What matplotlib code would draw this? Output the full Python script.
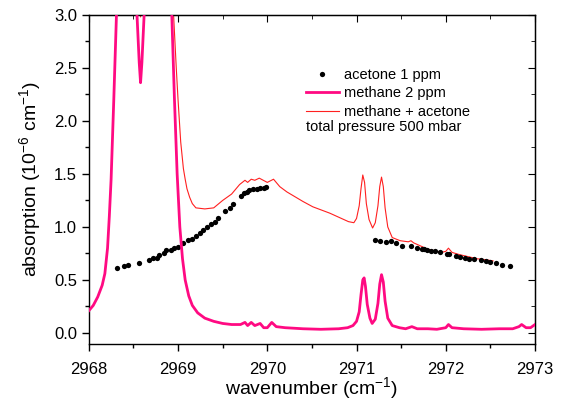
import matplotlib
matplotlib.use("Agg")
import matplotlib.pyplot as plt
from matplotlib.lines import Line2D
from matplotlib.ticker import MultipleLocator, FormatStrFormatter

plt.rcParams["font.family"] = ["Liberation Sans", "DejaVu Sans"]
plt.rcParams["mathtext.fontset"] = "custom"
plt.rcParams["mathtext.rm"] = "Liberation Sans"
plt.rcParams["mathtext.it"] = "Liberation Sans"

# methane 2 ppm (thick magenta line); values above 3.0 are clipped by the axes
methane_x = [2968.00, 2968.05, 2968.10, 2968.15, 2968.18, 2968.21, 2968.23, 2968.25,
             2968.28, 2968.31, 2968.35, 2968.50, 2968.54, 2968.565, 2968.58, 2968.595,
             2968.62, 2968.66, 2968.90, 2968.93, 2968.96, 2968.99, 2969.02, 2969.05,
             2969.08, 2969.12, 2969.16, 2969.22, 2969.30, 2969.40, 2969.50, 2969.60,
             2969.70, 2969.75, 2969.78, 2969.82, 2969.86, 2969.92, 2969.96, 2970.00,
             2970.05, 2970.10, 2970.20, 2970.40, 2970.60, 2970.80, 2970.90, 2970.96,
             2971.00, 2971.03, 2971.05, 2971.07, 2971.085, 2971.10, 2971.12, 2971.15,
             2971.175, 2971.21, 2971.24, 2971.26, 2971.28, 2971.30, 2971.32, 2971.35,
             2971.40, 2971.48, 2971.55, 2971.62, 2971.68, 2971.80, 2971.90, 2972.00,
             2972.03, 2972.07, 2972.20, 2972.40, 2972.60, 2972.75, 2972.82, 2972.85,
             2972.90, 2972.95, 2973.00]
methane_y = [0.21, 0.26, 0.34, 0.45, 0.56, 0.80, 1.10, 1.45,
             2.20, 3.00, 3.60, 3.60, 3.00, 2.55, 2.36, 2.55,
             3.00, 3.60, 3.60, 3.00, 2.20, 1.50, 1.00, 0.70,
             0.50, 0.35, 0.26, 0.19, 0.14, 0.11, 0.09, 0.08,
             0.08, 0.10, 0.07, 0.10, 0.07, 0.09, 0.05, 0.05,
             0.10, 0.06, 0.05, 0.04, 0.035, 0.04, 0.05, 0.07,
             0.11, 0.20, 0.36, 0.50, 0.52, 0.44, 0.27, 0.14,
             0.09, 0.13, 0.28, 0.46, 0.55, 0.48, 0.30, 0.14,
             0.07, 0.05, 0.04, 0.06, 0.04, 0.04, 0.035, 0.05,
             0.08, 0.05, 0.04, 0.035, 0.04, 0.04, 0.06, 0.08,
             0.05, 0.05, 0.08]

# methane + acetone (thin red line)
mix_x = [2968.45, 2968.55, 2968.58, 2968.61, 2968.70, 2968.92, 2968.95, 2968.98,
         2969.00, 2969.03, 2969.06, 2969.08, 2969.10, 2969.13, 2969.16, 2969.20,
         2969.30, 2969.40, 2969.50, 2969.60, 2969.69, 2969.75, 2969.78, 2969.82,
         2969.86, 2969.91, 2970.00, 2970.07, 2970.14, 2970.22, 2970.30, 2970.40,
         2970.51, 2970.70, 2970.91, 2970.97, 2971.00, 2971.03, 2971.05, 2971.07,
         2971.09, 2971.11, 2971.14, 2971.18, 2971.21, 2971.24, 2971.26, 2971.28,
         2971.30, 2971.32, 2971.35, 2971.40, 2971.49, 2971.58, 2971.61, 2971.64,
         2971.80, 2971.95, 2972.00, 2972.03, 2972.07, 2972.15, 2972.25, 2972.35,
         2972.45, 2972.53]
mix_y = [3.60, 3.50, 2.98, 3.50, 3.60, 3.60, 3.00, 2.50,
         2.20, 1.80, 1.55, 1.45, 1.36, 1.28, 1.22, 1.18,
         1.17, 1.18, 1.25, 1.31, 1.40, 1.44, 1.42, 1.45,
         1.44, 1.46, 1.42, 1.45, 1.38, 1.33, 1.29, 1.24,
         1.19, 1.13, 1.05, 1.04, 1.08, 1.20, 1.36, 1.49,
         1.42, 1.22, 1.07, 0.99, 1.04, 1.20, 1.38, 1.47,
         1.38, 1.18, 1.00, 0.90, 0.87, 0.86, 0.87, 0.85,
         0.79, 0.76, 0.77, 0.80, 0.76, 0.74, 0.72, 0.70,
         0.69, 0.68]

# acetone 1 ppm (black dots)
acetone_x = [2968.32, 2968.40, 2968.44, 2968.56, 2968.68, 2968.72, 2968.76, 2968.79,
             2968.84, 2968.87, 2968.92, 2968.96, 2969.00, 2969.05, 2969.11, 2969.16,
             2969.20, 2969.25, 2969.28, 2969.33, 2969.37, 2969.41, 2969.45, 2969.53,
             2969.58, 2969.62, 2969.71, 2969.74, 2969.77, 2969.80, 2969.84, 2969.88,
             2969.92, 2969.96, 2969.99,
             2971.21, 2971.26, 2971.33, 2971.39, 2971.44, 2971.51, 2971.61, 2971.68,
             2971.73, 2971.76, 2971.79, 2971.84, 2971.88, 2971.94, 2972.01, 2972.04,
             2972.11, 2972.16, 2972.21, 2972.26, 2972.32, 2972.39, 2972.45, 2972.50,
             2972.56, 2972.63, 2972.72]
acetone_y = [0.61, 0.63, 0.64, 0.66, 0.69, 0.71, 0.71, 0.74,
             0.75, 0.78, 0.78, 0.80, 0.81, 0.85, 0.88, 0.89,
             0.91, 0.94, 0.97, 1.00, 1.03, 1.05, 1.08, 1.15,
             1.18, 1.22, 1.29, 1.32, 1.33, 1.35, 1.36, 1.36,
             1.37, 1.37, 1.38,
             0.88, 0.87, 0.86, 0.87, 0.85, 0.82, 0.82, 0.80,
             0.79, 0.79, 0.78, 0.77, 0.77, 0.76, 0.745, 0.745,
             0.73, 0.72, 0.71, 0.70, 0.70, 0.69, 0.68, 0.67,
             0.66, 0.64, 0.63]

magenta = "#ff0a82"
red = "#ff2020"

fig = plt.figure(figsize=(5.62, 4.12), dpi=100)
ax = fig.add_axes([0.158, 0.166, 0.794, 0.798])

ax.plot(mix_x, mix_y, color=red, lw=0.8, zorder=2)
ax.plot(acetone_x, acetone_y, "o", color="black", ms=3.8, mew=0, zorder=3)
ax.plot(methane_x, methane_y, color=magenta, lw=2.0, zorder=4)

ax.set_xlim(2968, 2973)
ax.set_ylim(-0.1, 3.0)
ax.xaxis.set_major_locator(MultipleLocator(1))
ax.xaxis.set_minor_locator(MultipleLocator(0.5))
ax.yaxis.set_major_locator(MultipleLocator(0.5))
ax.yaxis.set_minor_locator(MultipleLocator(0.25))
ax.yaxis.set_major_formatter(FormatStrFormatter("%.1f"))
ax.xaxis.set_major_formatter(FormatStrFormatter("%d"))
ax.tick_params(which="major", direction="out", length=5, width=1, labelsize=12)
ax.tick_params(axis="x", which="major", pad=8)
ax.tick_params(which="minor", direction="out", length=3, width=1)
for s in ax.spines.values():
    s.set_linewidth(1)

# inward ticks on top and right
top = ax.secondary_xaxis("top")
top.xaxis.set_major_locator(MultipleLocator(1))
top.xaxis.set_minor_locator(MultipleLocator(0.5))
top.tick_params(which="major", direction="in", length=5, labeltop=False)
top.tick_params(which="minor", direction="in", length=3)
right = ax.secondary_yaxis("right")
right.yaxis.set_major_locator(MultipleLocator(0.5))
right.yaxis.set_minor_locator(MultipleLocator(0.25))
right.tick_params(which="major", direction="in", length=5, labelright=False)
right.tick_params(which="minor", direction="in", length=3)

ax.set_xlabel("wavenumber (cm$^{-1}$)", fontsize=14, labelpad=-1)
ax.set_ylabel("absorption (10$^{-6}$ cm$^{-1}$)", fontsize=14, labelpad=8)

handles = [
    Line2D([], [], ls="none", marker="o", color="black", ms=3.8, mew=0),
    Line2D([], [], color=magenta, lw=2.0),
    Line2D([], [], color=red, lw=0.8),
]
labels = ["acetone 1 ppm", "methane 2 ppm", "methane + acetone"]
ax.legend(handles, labels, loc="upper left", bbox_to_anchor=(0.486, 0.838),
          frameon=False, fontsize=10.5, handlelength=2.3, handletextpad=0.35,
          labelspacing=0.3, borderpad=0, borderaxespad=0)
ax.text(0.486, 0.66, "total pressure 500 mbar", transform=ax.transAxes,
        fontsize=10.5, va="center", ha="left")

fig.savefig("out.png", dpi=100)
